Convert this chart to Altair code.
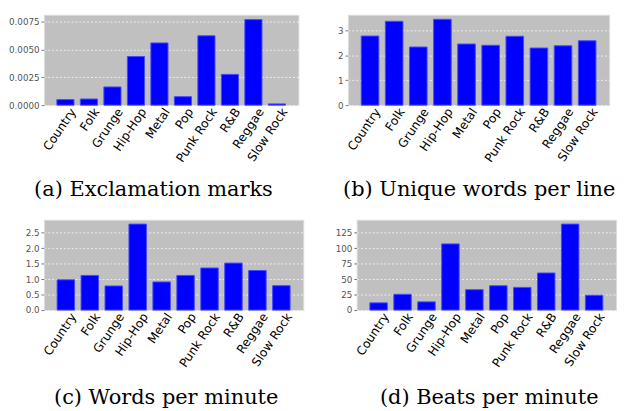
import altair as alt
import pandas as pd

genres = ["Country", "Folk", "Grunge", "Hip-Hop", "Metal", "Pop",
          "Punk Rock", "R&B", "Reggae", "Slow Rock"]
exclamation = [0.00050, 0.00055, 0.00163, 0.00436, 0.00558, 0.00076,
               0.00622, 0.00276, 0.00767, 0.00011]
unique_words = [2.77, 3.36, 2.33, 3.44, 2.45, 2.40, 2.76, 2.29, 2.38, 2.58]
words_pm = [0.98, 1.12, 0.78, 2.78, 0.91, 1.12, 1.36, 1.52, 1.28, 0.79]
beats_pm = [11.7, 25.5, 13.3, 107.0, 33.0, 39.4, 36.7, 60.0, 139.0, 24.0]

captions = ["(a) Exclamation marks", "(b) Unique words per line",
            "(c) Words per minute", "(d) Beats per minute"]


def panel(values, caption, dmax, ticks, fmt, width, lsize, dx=0, offset=16):
    df = pd.DataFrame({"genre": genres, "value": values})
    return alt.Chart(df).mark_bar(
        color="#0000ff", stroke="#4a4aff", strokeWidth=1
    ).encode(
        x=alt.X("genre:N", sort=genres,
                scale=alt.Scale(paddingInner=0.27, paddingOuter=0.55),
                axis=alt.Axis(title=None, labelAngle=-56, labelAlign="right",
                              labelBaseline="middle", labelFontSize=12.5,
                              labelFont="DejaVu Sans", labelColor="#000",
                              ticks=False, domain=False, labelPadding=4,
                              labelOffset=8, grid=False)),
        y=alt.Y("value:Q",
                scale=alt.Scale(domain=[0, dmax], nice=False, zero=True),
                axis=alt.Axis(title=None, values=ticks, format=fmt, grid=True,
                              gridColor="#f4f4f4", gridDash=[2, 2],
                              gridWidth=0.9, tickSize=3, tickColor="#777",
                              labelColor="#555", labelFontSize=lsize,
                              labelFont="DejaVu Sans", domain=False,
                              labelPadding=2)),
    ).properties(
        width=width, height=93,
        title=alt.TitleParams(caption, orient="bottom", font="DejaVu Serif",
                              fontSize=21.5, fontWeight="normal", color="#000",
                              offset=offset, anchor="middle", frame="bounds",
                              dx=dx),
    )


a = panel(exclamation, captions[0], 0.0081, [0, 0.0025, 0.005, 0.0075],
          ".4f", 262, 9)
b = panel(unique_words, captions[1], 3.62, [0, 1, 2, 3], "d", 269, 9, dx=6)
c = panel(words_pm, captions[2], 2.92, [0, 0.5, 1.0, 1.5, 2.0, 2.5],
          ".1f", 267, 9, dx=2, offset=19)
d = panel(beats_pm, captions[3], 146, [0, 25, 50, 75, 100, 125],
          "d", 267, 9, dx=14, offset=19)

chart = alt.vconcat(
    alt.hconcat(a, b, spacing=38),
    alt.hconcat(c, d, spacing=31),
    spacing=18,
).properties(
    padding=0, background="white"
).configure_view(
    fill="#c0c0c0", stroke="#dcdcdc", strokeWidth=1
)

chart.save("out.html", embed_options={"renderer": "svg", "actions": False})
